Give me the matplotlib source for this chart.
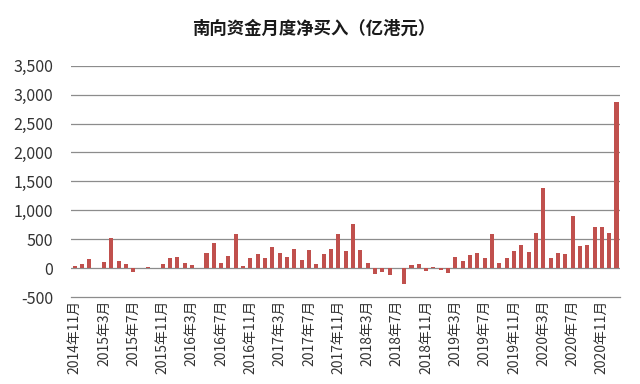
import matplotlib.pyplot as plt
import numpy as np

plt.rcParams['font.family'] = ['Noto Sans CJK SC', 'DejaVu Sans']

# 月份: 2014年11月 ~ 2021年1月
years = [2014] * 2 + [y for y in range(2015, 2021) for _ in range(12)] + [2021]
months = [11, 12] + list(range(1, 13)) * 6 + [1]
months_label = [f'{y}年{m}月' for y, m in zip(years, months)]

# 南向资金月度净买入（亿港元）
net_buy = [
    35, 80,
    157, 5, 110, 525, 128, 80, -60, 3, 18, 3, 70, 178,
    190, 85, 52, 8, 265, 440, 96, 218, 590, 40, 186, 247,
    186, 366, 264, 197, 337, 145, 320, 67, 247, 337, 590, 302,
    766, 320, 96, -93, -60, -110, 3, -270, 52, 81, -55, 20,
    -38, -90, 197, 128, 232, 267, 186, 592, 99, 186, 290, 406,
    279, 603, 1390, 186, 267, 250, 905, 377, 406, 708, 708, 603,
    2880,
]

y_ticks = list(range(-500, 3501, 500))

fig = plt.figure(figsize=(6.4, 3.84), dpi=100)
ax = fig.add_axes([0.111, 0.226, 0.858, 0.603])

x = np.arange(len(net_buy))
ax.bar(x, net_buy, width=0.55, color='#c0504d', zorder=3)

ax.set_xlim(-0.5, len(net_buy) - 0.5)
ax.set_ylim(-500, 3500)
ax.set_yticks(y_ticks)
ax.set_yticklabels([f'{v:,}' for v in y_ticks], fontsize=11.5, color='#333333')

ax.set_xticks(x[::4])
ax.set_xticklabels(months_label[::4], rotation=90, fontsize=10, color='#333333')

for v in y_ticks[1:]:
    ax.axhline(v, color='#8c8c8c', linewidth=0.9, zorder=1)

for side in ['top', 'right', 'left']:
    ax.spines[side].set_visible(False)
ax.spines['bottom'].set_color('#8c8c8c')
ax.spines['bottom'].set_linewidth(0.9)

ax.tick_params(axis='y', length=0, pad=13)
ax.tick_params(axis='x', length=0, pad=2)

fig.text(0.49, 0.925, '南向资金月度净买入（亿港元）', ha='center', va='center',
         fontsize=12.5, color='#1a1a1a', fontweight='bold')

fig.savefig('out.png', dpi=100)
